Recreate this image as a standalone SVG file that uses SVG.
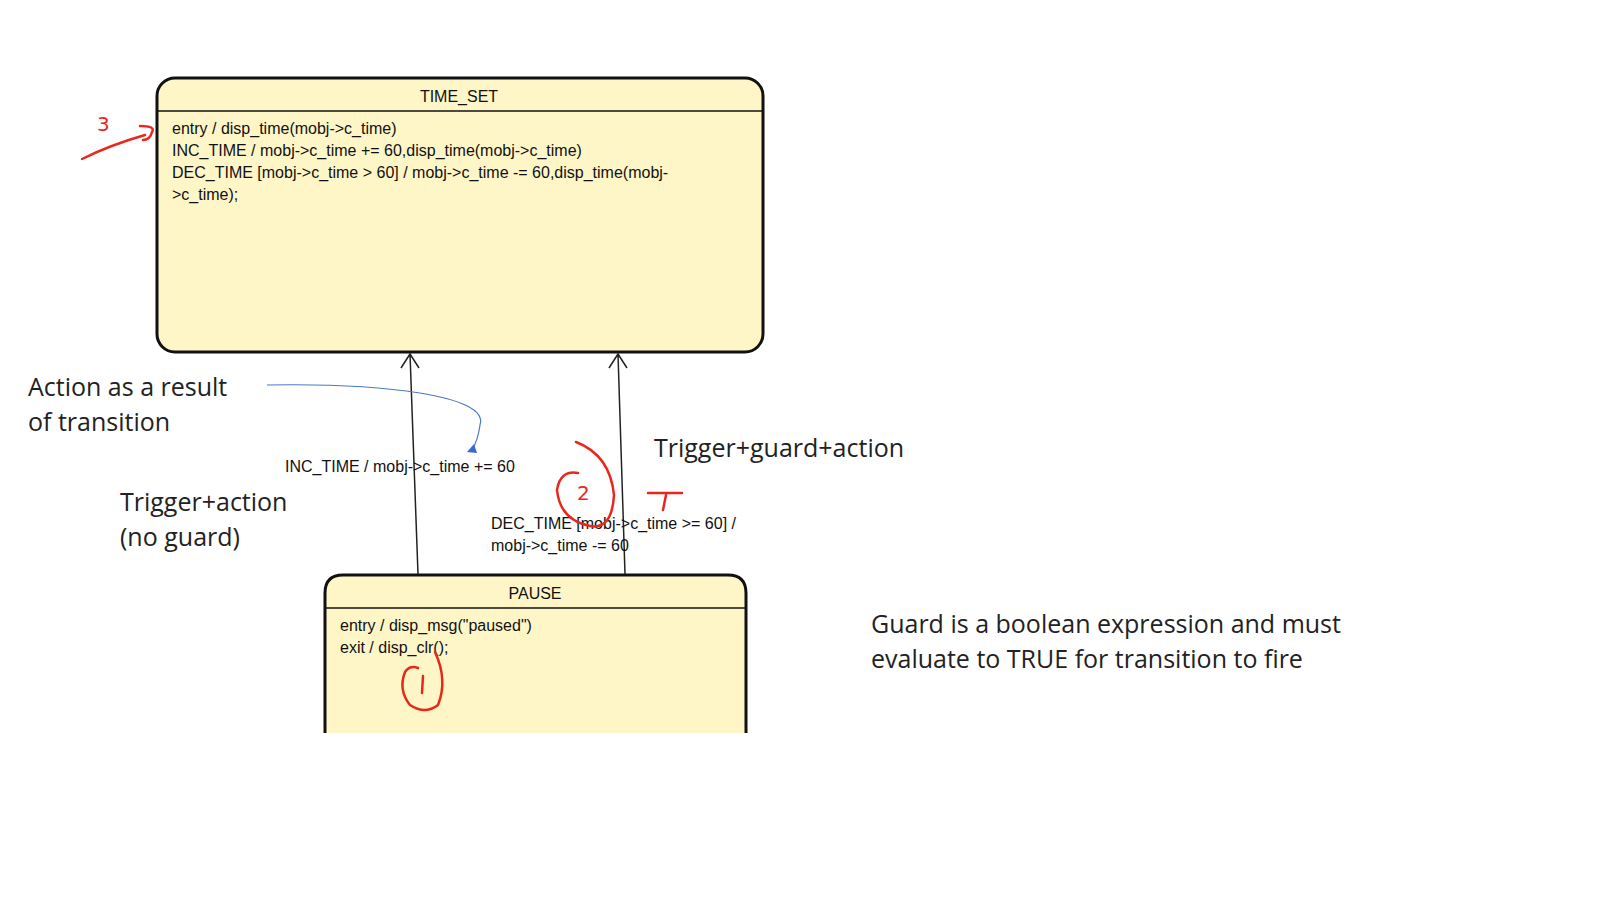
<svg xmlns="http://www.w3.org/2000/svg" width="1600" height="900" viewBox="0 0 1600 900">
<style>
.st{fill:#fff6c8;stroke:#111;stroke-width:3}
.t{font-family:"Liberation Sans",Arial,sans-serif;font-size:16px;fill:#111}
.n{font-family:"Open Sans","Noto Sans",sans-serif;font-size:25px;fill:#222}
.ink{fill:none;stroke:#e8281c;stroke-width:2.5;stroke-linecap:round}
.hw{font-family:"DejaVu Sans",sans-serif;font-size:20px;fill:#e8281c}
.c{fill:none;stroke:#222;stroke-width:1.5}
</style>
<rect width="1600" height="900" fill="#fff"/>
<g id="TIME_SET">
<rect class="st" x="157" y="78" width="606" height="274" rx="18"/>
<line x1="157" y1="111" x2="763" y2="111" stroke="#111" stroke-width="1.5"/>
<text class="t" x="459" y="102" text-anchor="middle">TIME_SET</text>
<text class="t" x="172" y="134">entry / disp_time(mobj-&gt;c_time)</text>
<text class="t" x="172" y="156">INC_TIME / mobj-&gt;c_time += 60,disp_time(mobj-&gt;c_time)</text>
<text class="t" x="172" y="178">DEC_TIME [mobj-&gt;c_time &gt; 60] / mobj-&gt;c_time -= 60,disp_time(mobj-</text>
<text class="t" x="172" y="200">&gt;c_time);</text>
</g>
<g id="PAUSE">
<path class="st" d="M325,733 V593 Q325,575 343,575 H728 Q746,575 746,593 V733"/>
<line x1="325" y1="608" x2="746" y2="608" stroke="#111" stroke-width="1.5"/>
<text class="t" x="535" y="599" text-anchor="middle">PAUSE</text>
<text class="t" x="340" y="631">entry / disp_msg("paused")</text>
<text class="t" x="340" y="653">exit / disp_clr();</text>
</g>
<g id="connectors">
<path class="c" d="M418,574 L410,354 M401,368 L410,354 L419,368"/>
<path class="c" d="M625,574 L618,354 M609,368 L618,354 L627,368"/>
<path d="M267,385 C380,383 490,395 480,425 Q478,440 472,450" fill="none" stroke="#4a78c8" stroke-width="1.2"/>
<polygon points="467,452 477,453 474,444" fill="#3a6ad0"/>
<text class="t" x="285" y="472">INC_TIME / mobj-&gt;c_time += 60</text>
<text class="t" x="491" y="529">DEC_TIME [mobj-&gt;c_time &gt;= 60] /</text>
<text class="t" x="491" y="551">mobj-&gt;c_time -= 60</text>
</g>
<g id="notes">
<text class="n" x="28" y="396">Action as a result</text>
<text class="n" x="28" y="431">of transition</text>
<text class="n" x="120" y="511">Trigger+action</text>
<text class="n" x="120" y="546">(no guard)</text>
<text class="n" x="654" y="457">Trigger+guard+action</text>
<text class="n" x="871" y="633">Guard is a boolean expression and must</text>
<text class="n" x="871" y="668">evaluate to TRUE for transition to fire</text>
</g>
<g id="annotations">
<path class="ink" d="M82,159 Q110,145 145,135 M140,126 Q156,126 152,132 Q150,140 143,140"/>
<text class="hw" x="97" y="131">3</text>
<path class="ink" d="M576,442 Q610,455 614,495 Q612,530 590,526 Q560,520 557,490 Q560,470 578,473"/>
<text class="hw" x="577" y="500">2</text>
<path class="ink" d="M648,493 H682 M666,495 L663,510"/>
<path class="ink" d="M435,652 Q448,680 438,705 Q425,715 410,705 Q398,690 405,672 Q410,665 418,668"/>
<line class="ink" x1="423" y1="676" x2="422" y2="693"/>
</g>
</svg>
